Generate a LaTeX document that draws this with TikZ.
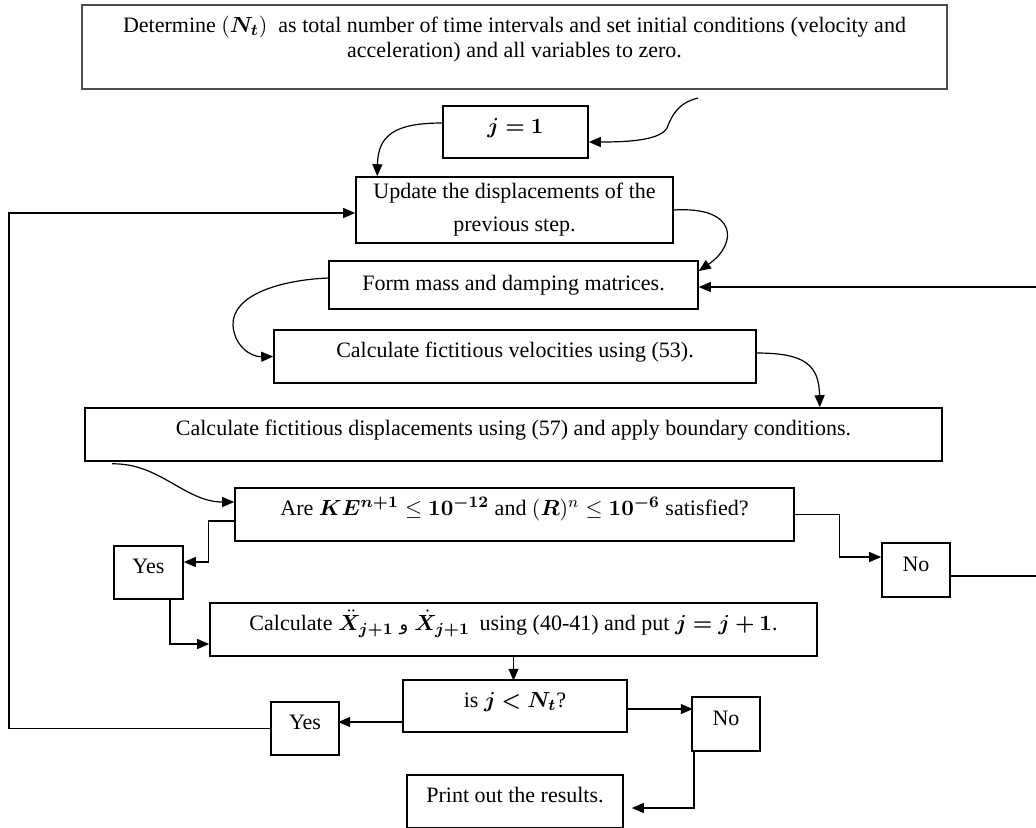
\documentclass[tikz,border=0pt]{standalone}
\usepackage{fontspec}
\setmainfont{Liberation Serif}
\newfontfamily\arabicfont[Script=Arabic]{DejaVu Sans}
\usepackage{amsmath}
\usepackage{bm}
\usetikzlibrary{arrows.meta}

\begin{document}
\begin{tikzpicture}[x=0.5pt,y=-0.5pt,
  font=\fontsize{11pt}{12.7pt}\selectfont,
  frame/.style={draw=black,line width=0.8pt,inner sep=0pt},
  box/.style={frame,text height=8pt,text depth=7pt},
  flow/.style={-{Triangle[length=6pt,width=5pt]},draw=black,line width=0.6pt}]
\useasboundingbox (0,0) rectangle (1036,827);
\clip (0,0) rectangle (1036,827);

\node[frame,draw=black!70,line width=1pt,minimum width=432.5pt,minimum height=42pt] (init) at (514.5,47) {\parbox[c][42pt][t]{430pt}{\vspace*{5.5pt}\centering Determine $(\bm{N_t})$\ \ as total number of time intervals and set initial conditions (velocity and\\ acceleration) and all variables to zero.}};
\node[box,minimum width=72.5pt,minimum height=26pt] (jone) at (515.5,132) {$\bm{j=1}$};
\node[frame,align=center,minimum width=158.5pt,minimum height=33pt] (update) at (514.5,210) {Update the displacements of the\\[3.8pt] previous step.};
\node[frame,minimum width=184.5pt,minimum height=24pt] (form) at (513.5,285) {Form mass and damping matrices.};
\node[box,minimum width=241pt,minimum height=26.5pt] (vel) at (515,356.5) {Calculate fictitious velocities using (53).};
\node[box,minimum width=428.5pt,minimum height=26.5pt] (disp) at (513.5,434.5) {Calculate fictitious displacements using (57) and apply boundary conditions.};
\node[box,minimum width=279.5pt,minimum height=26.5pt] (conv) at (514.5,514.5) {Are $\bm{KE^{n+1}}\le\bm{10^{-12}}$ and $(\bm{R})^n\le\bm{10^{-6}}$ satisfied?};
\node[box,minimum width=34.5pt,minimum height=26.5pt] (yesa) at (148.5,572.5) {Yes};
\node[box,minimum width=34pt,minimum height=27pt] (noa) at (916,570) {No};
\node[box,minimum width=303.5pt,minimum height=26.5pt] (acc) at (513.5,629.5) {Calculate $\bm{\ddot{X}_{j+1}}$\hspace{3pt}{\arabicfont\small و}\hspace{3pt}$\bm{\dot{X}_{j+1}}$\hspace{2pt} using (40-41) and put $\bm{j=j+1}$.};
\node[box,minimum width=112pt,minimum height=26pt] (test) at (515,706) {is $\bm{j<N_t}$?};
\node[box,minimum width=34pt,minimum height=26.5pt] (yesb) at (305,728.5) {Yes};
\node[box,minimum width=34pt,minimum height=27pt] (nob) at (726,724) {No};
\node[box,minimum width=108pt,minimum height=26.5pt] (print) at (515,801.5) {Print out the results.};

\coordinate (initout) at (698,98);
\coordinate (lrail) at (9,470);
\coordinate (rrail) at (1060,430);

% curved links
\path[flow] (initout) .. controls (678,103) and (672,115) .. (667,128) .. controls (660,140) and (630,142) .. ([yshift=-5pt]jone.east);
\path[flow] ([yshift=4.5pt]jone.west) .. controls (395,123) and (378,135) .. ([xshift=11pt]update.north west);
\path[flow] (update.east) .. controls (738,206) and (738,244) .. ([yshift=7pt]form.east);
\path[flow] ([yshift=3.5pt]form.west) .. controls (280,280) and (232,295) .. (233,325) .. controls (234,345) and (250,357) .. (vel.west);
\path[flow] ([yshift=1.75pt]vel.east) .. controls (805,353) and (819,365) .. ([xshift=-61.5pt]disp.north east);
\path[flow] ([xshift=14pt,yshift=-1pt]disp.south west) .. controls (160,463) and (185,502) .. ([yshift=6.25pt]conv.west);

% elbow links
\path[flow] ([yshift=-3.25pt]conv.west) -- ++(-13pt,0) |- ([yshift=5.25pt]yesa.east);
\path[flow] ([xshift=10.75pt]yesa.south) |- ([yshift=-7.25pt]acc.west);
\path[flow] (conv.east) -- ++(22.5pt,0) |- ([yshift=6.5pt]noa.west);
\path[flow] (acc.south) -- ++(0,-12pt);
\path[flow] ([yshift=-8pt]test.west) -- ++(-32pt,0);
\path[flow] ([yshift=-1.5pt]test.east) -- ++(32.5pt,0);
\path[flow] ([xshift=-16pt]nob.south) |- ([xshift=4pt,yshift=-3.25pt]print.east);

% loops back
\path[flow] (yesb.west) -| (lrail) |- ([yshift=-1.5pt]update.west);
\path[flow] ([yshift=-3pt]noa.east) -| (rrail) |- ([yshift=-1pt]form.east);
\end{tikzpicture}
\end{document}
